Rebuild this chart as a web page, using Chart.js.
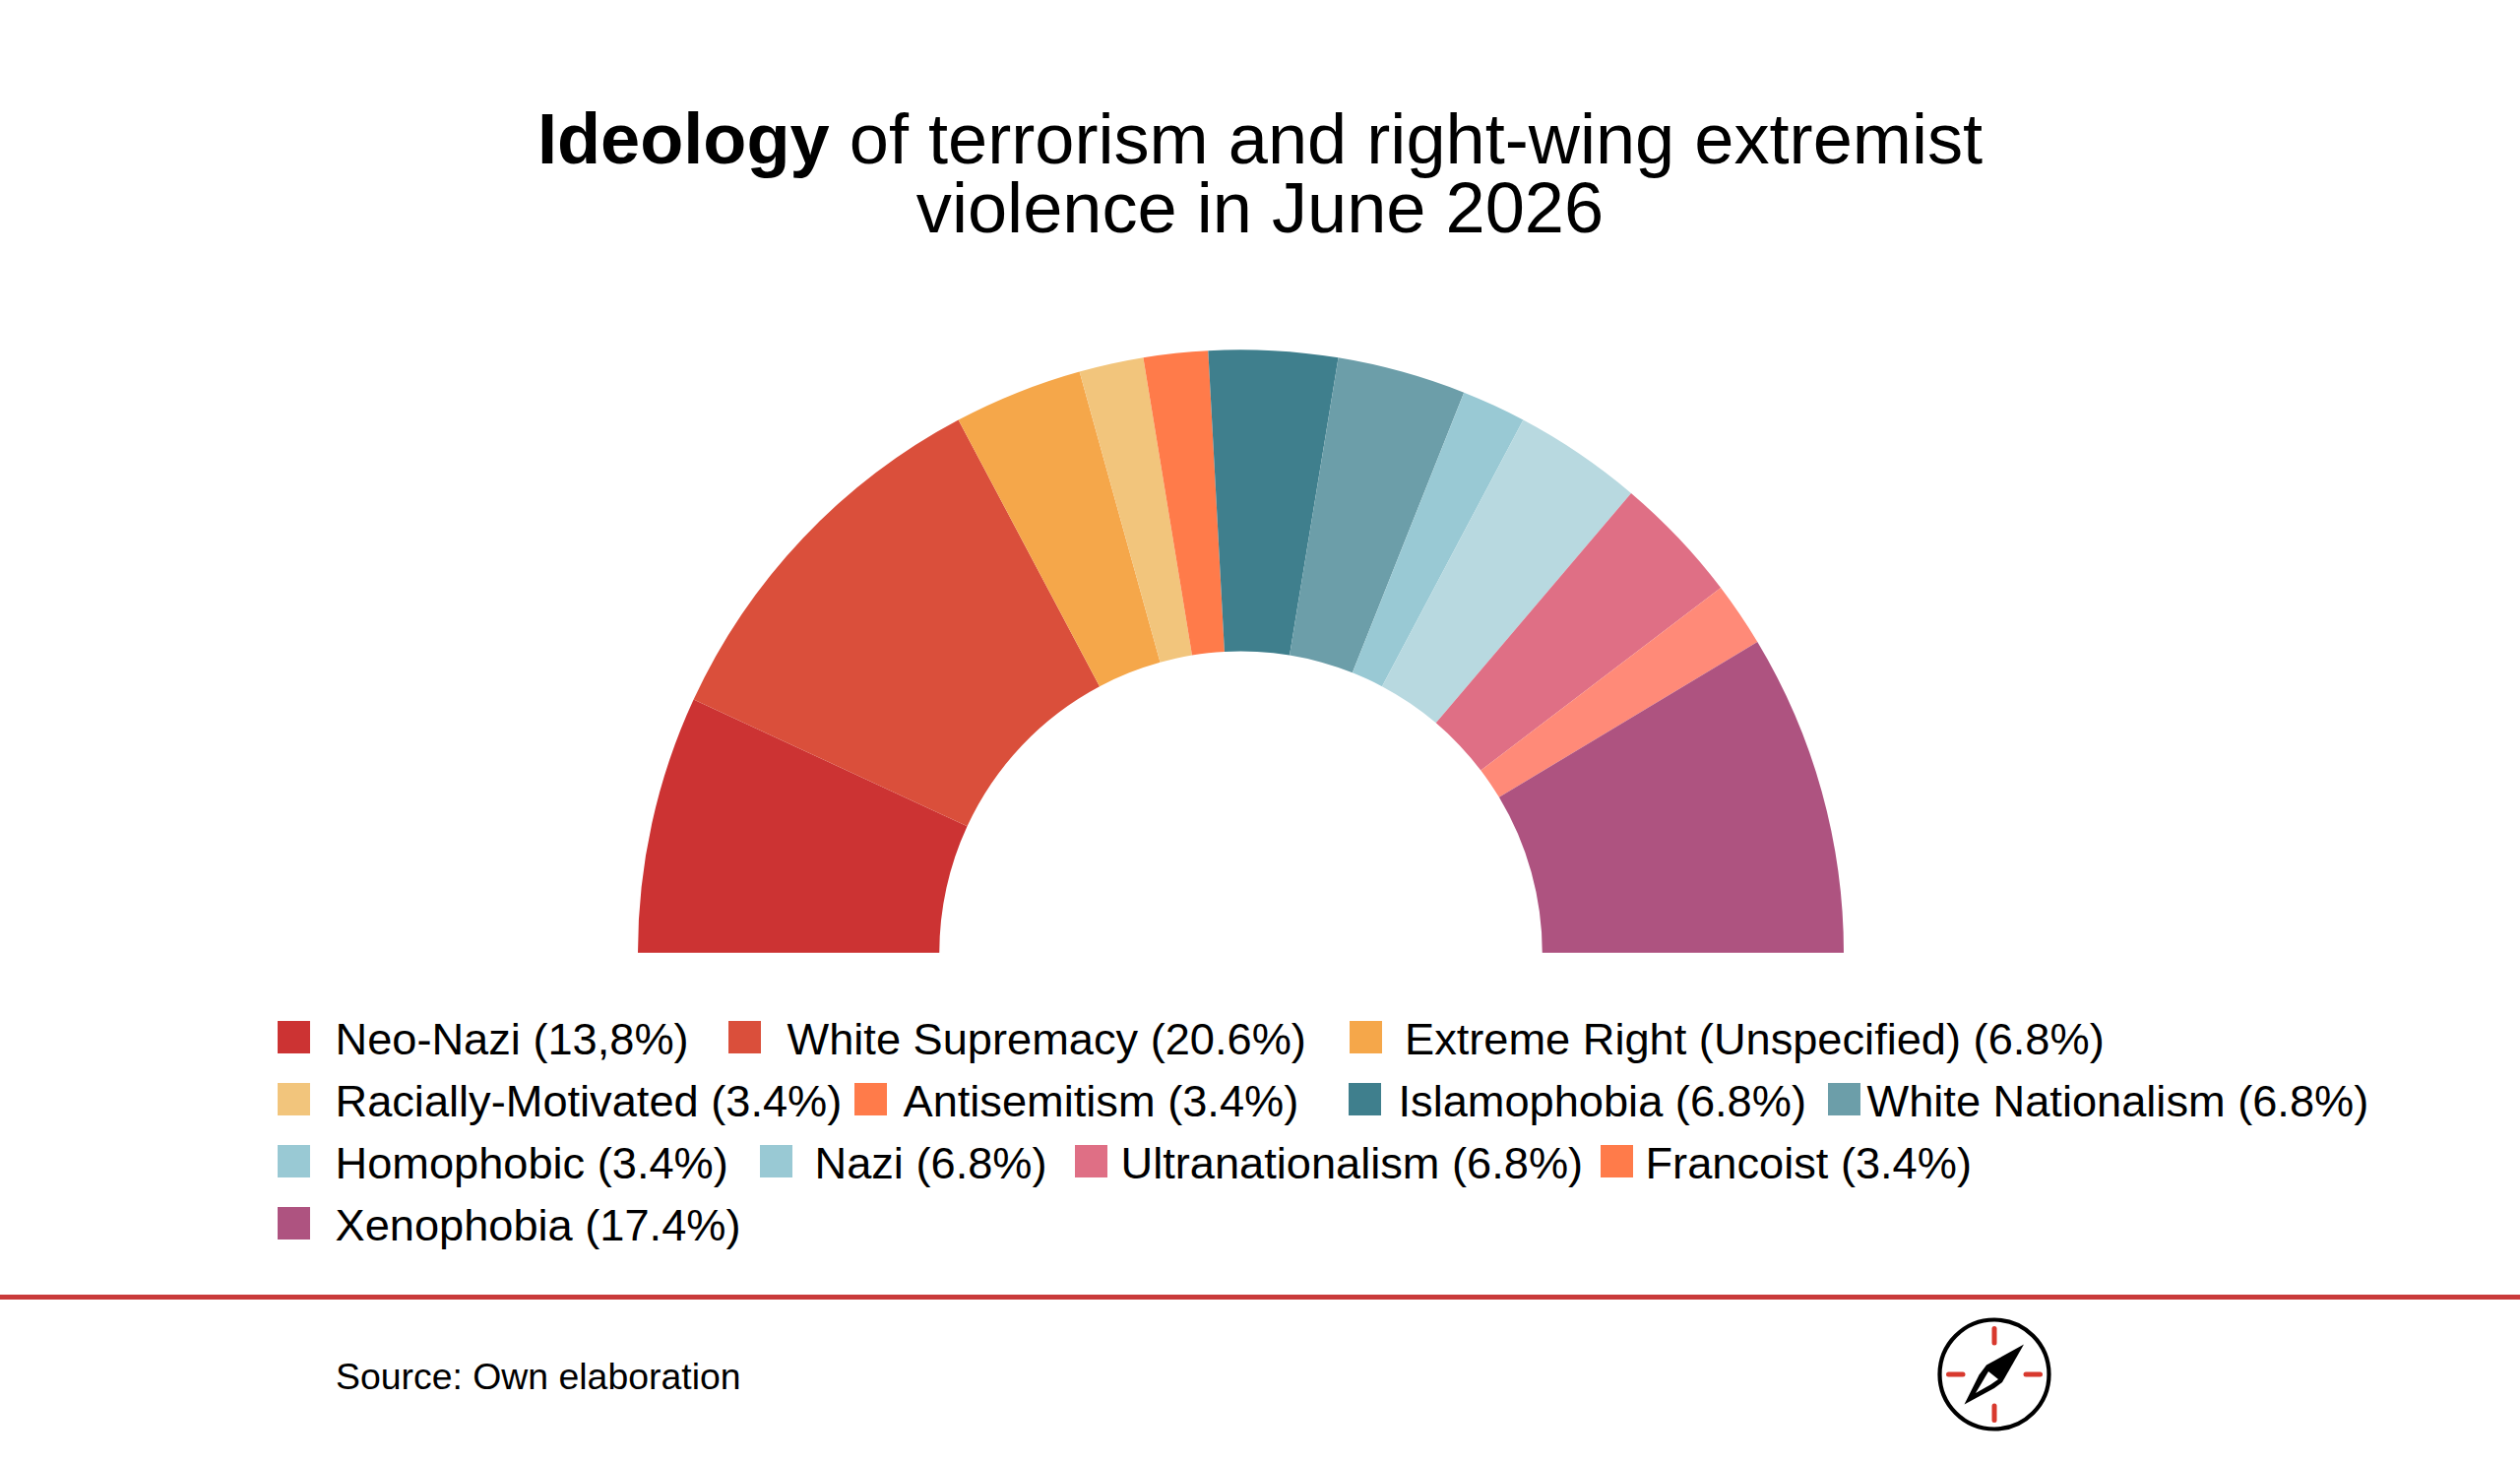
<!DOCTYPE html>
<html>
<head>
<meta charset="utf-8">
<script src="https://cdn.jsdelivr.net/npm/chart.js@4/dist/chart.umd.min.js"></script>
<style>
html,body{margin:0;padding:0;background:#fff;width:2560px;height:1485px;overflow:hidden;font-family:"Liberation Sans",Arial,sans-serif;color:#000}
#wrap{position:absolute;left:648px;top:355px;width:1225px;height:613px}
.tl{position:absolute;left:0;width:2560px;text-align:center;font-size:72.2px;line-height:60px;white-space:pre}
.sw{position:absolute;width:33px;height:33px}
.lg{position:absolute;font-size:45.2px;line-height:33px;white-space:nowrap}
#rule{position:absolute;left:0;top:1314.5px;width:2560px;height:5.5px;background:#C93A3A}
#src{position:absolute;left:341px;top:1378px;font-size:37.4px;line-height:40px;white-space:nowrap}
#compass{position:absolute;left:1960px;top:1330px}
</style>
</head>
<body>
<div class="tl" style="top:111px"><b>Ideology</b><span> of terrorism and right-wing extremist</span></div>
<div class="tl" style="top:181px">violence in June 2026</div>
<div id="wrap"><canvas id="c" width="1225" height="613" style="width:1225px;height:613px"></canvas></div>
<div id="legend"></div>
<div id="rule"></div>
<div id="src">Source: Own elaboration</div>
<svg id="compass" width="132" height="132" viewBox="-66 -66 132 132">
  <circle cx="0" cy="0" r="55.5" fill="#fff" stroke="#000" stroke-width="4.2"/>
  <g stroke="#D8392E" stroke-width="5" stroke-linecap="round">
    <line x1="0" y1="-46.5" x2="0" y2="-32"/><line x1="0" y1="32" x2="0" y2="46.5"/>
    <line x1="-46.5" y1="0" x2="-32" y2="0"/><line x1="32" y1="0" x2="46.5" y2="0"/>
  </g>
  <polygon points="30,-30.5 -8,-9.5 -15.5,0.5 -30.5,30.5 0,14 8,8" fill="#000"/>
  <polygon points="-6,-3 4,5 -4,10.5 -19,19" fill="#fff"/>
</svg>
<script>
const categories = ["Neo-Nazi","White Supremacy","Extreme Right (Unspecified)","Racially-Motivated","Antisemitism","Islamophobia","White Nationalism","Homophobic","Nazi","Ultranationalism","Francoist","Xenophobia"];
const shareLabels = ["13,8%","20.6%","6.8%","3.4%","3.4%","6.8%","6.8%","3.4%","6.8%","6.8%","3.4%","17.4%"];
const sliceCounts = [4,6,2,1,1,2,2,1,2,2,1,5];
const sliceColors = ["#CC3333","#DA4F3B","#F5A74A","#F2C57C","#FF7B4A","#3F7F8D","#6C9EA9","#99C9D4","#B8D9E0","#DF6F85","#FF8A78","#AE5380"];
const swatchColors = ["#CC3333","#DA4F3B","#F5A74A","#F2C57C","#FF7B4A","#3F7F8D","#6C9EA9","#99C9D4","#99C9D4","#DF6F85","#FF7B4A","#AE5380"];
// legend layout (x of swatch, x of text, y of row), hand-placed as in the reference
const swatchX = [282,740,1371,282,868,1370,1857,282,772,1092,1626,282];
const textX   = [340.5,799.5,1427,340.5,917.5,1420.5,1896.5,340.5,827.5,1138.5,1671.5,340.5];
const rowY    = [1037,1037,1037,1100,1100,1100,1100,1163,1163,1163,1163,1226];

const legend = document.getElementById('legend');
categories.forEach((name,i)=>{
  const s=document.createElement('div');s.className='sw';
  s.style.cssText=`left:${swatchX[i]}px;top:${rowY[i]}px;background:${swatchColors[i]}`;
  legend.appendChild(s);
  const t=document.createElement('div');t.className='lg';
  t.style.cssText=`left:${textX[i]}px;top:${rowY[i]+1.5}px`;
  t.textContent=`${name} (${shareLabels[i]})`;
  legend.appendChild(t);
});

new Chart(document.getElementById('c'),{
  type:'doughnut',
  data:{labels:categories,datasets:[{data:sliceCounts,backgroundColor:sliceColors,borderWidth:0}]},
  options:{
    responsive:false,animation:false,devicePixelRatio:1,
    rotation:-90,circumference:180,cutout:'50%',
    layout:{padding:0},
    plugins:{legend:{display:false},tooltip:{enabled:false},title:{display:false}}
  }
});
</script>
</body>
</html>
